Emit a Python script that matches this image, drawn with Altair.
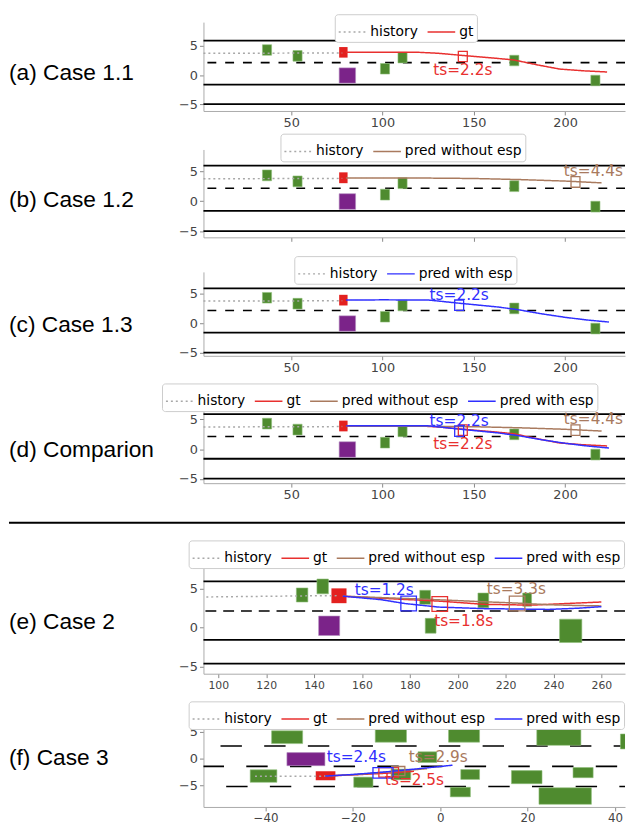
import altair as alt
import pandas as pd

W = 427
FONT = "DejaVu Sans"
LABEL_FONT = "Liberation Sans"

SERIES = ["history", "gt", "pred without esp", "pred with esp"]
SERIES_COLORS = ["#a8a8a8", "#e8302f", "#a97a5e", "#2f2fff"]
SERIES_DASH = [[2, 3], [1, 0], [1, 0], [1, 0]]

GREEN = "#4f8b2f"
PURPLE = "#7b2389"
EGO_RED = "#e3211f"

# ---------------- Case 1 (panels a-d) ----------------
c1_lane_solid = [5.9, -1.6, -4.95]
c1_lane_dashed = [2.15]
c1_veh_x = [36.8, 53.5, 101.4, 111.0, 172.2, 216.6]
c1_veh_y = [4.3, 3.3, 1.1, 3.0, 2.5, -0.9]
c1_veh_len = [5.0, 5.0, 5.0, 5.0, 5.0, 5.0]
c1_veh_wid = [1.8, 1.8, 1.8, 1.8, 1.8, 1.8]
c1_ego = [78.6, 3.9, 4.6, 1.8]
c1_purple = [80.8, -0.05, 9.0, 2.6]
c1_hist_x = [2, 20, 40, 60, 78]
c1_hist_y = [3.75, 3.75, 3.76, 3.78, 3.8]
c1_gt_x = [80, 100, 120, 130, 144, 160, 172, 185, 197, 210, 223]
c1_gt_y = [3.9, 3.92, 3.9, 3.75, 3.37, 2.95, 2.6, 1.75, 1.05, 0.75, 0.55]
c1_wo_x = [80, 120, 150, 175, 200, 220]
c1_wo_y = [3.88, 3.86, 3.78, 3.6, 3.35, 3.05]
c1_w_x = [80, 100, 125, 143, 163, 174, 187, 200, 212, 224]
c1_w_y = [3.92, 3.95, 3.93, 3.35, 2.75, 2.3, 1.6, 1.0, 0.55, 0.2]
c1_hollow_gt = [144.0, 3.2, 4.9, 1.75]
c1_hollow_w = [142.0, 3.05, 4.9, 1.75]
c1_hollow_wo = [205.7, 3.2, 4.9, 1.75]
c1_text_gt = [144.0, 0.8, "ts=2.2s"]
c1_text_w = [142.0, 4.8, "ts=2.2s"]
c1_text_wo = [215.5, 5.0, "ts=4.4s"]

# ---------------- Case 2 (panel e) ----------------
c2_lane_solid = [5.95, -1.55, -4.6]
c2_lane_dashed = [2.15]
c2_veh_x = [135.0, 143.6, 186.4, 188.7, 210.7, 229.0, 247.2]
c2_veh_y = [4.2, 5.3, 3.9, 0.25, 3.5, 3.6, -0.4]
c2_veh_len = [4.8, 4.8, 4.5, 4.5, 4.5, 3.7, 9.3]
c2_veh_wid = [1.8, 1.9, 1.8, 1.9, 1.9, 1.7, 3.0]
c2_ego = [150.4, 4.1, 6.3, 1.9]
c2_purple = [146.3, 0.25, 8.8, 2.5]
c2_hist_x = [95, 110, 125, 140, 150]
c2_hist_y = [3.95, 4.0, 4.05, 4.1, 4.12]
c2_gt_x = [152, 170, 193, 211, 231, 245, 260]
c2_gt_y = [4.05, 3.75, 3.4, 3.0, 2.9, 3.1, 3.3]
c2_wo_x = [152, 165, 183, 200, 211, 225, 238, 250, 260]
c2_wo_y = [4.05, 3.9, 3.7, 3.48, 3.33, 3.16, 2.95, 2.85, 2.8]
c2_w_x = [152, 168, 178, 192, 211, 225, 238, 250, 260]
c2_w_y = [4.05, 3.6, 3.1, 2.65, 2.45, 2.4, 2.35, 2.5, 2.7]
c2_hollow_gt = [192.5, 3.05, 6.5, 1.9]
c2_hollow_w = [179.5, 3.1, 6.5, 1.9]
c2_hollow_wo = [224.8, 3.1, 6.5, 1.9]
c2_text_gt = [202.5, 0.8, "ts=1.8s"]
c2_text_w = [169.3, 4.8, "ts=1.2s"]
c2_text_wo = [224.5, 4.9, "ts=3.3s"]

# ---------------- Case 3 (panel f) ----------------
c3_lane_y = [2.35, -1.48, -5.25]
c3_lane_start = [-50.3, -54.4, -49.0]
c3_veh_x = [-35.05, -11.3, 5.45, 27.15, 43.5, -2.95, -40.45, -17.6, -9.0, 6.85, 4.6, 19.8, 28.6, 32.7]
c3_veh_y = [4.0, 4.3, 4.3, 4.0, 3.2, 0.25, -3.3, -4.45, -3.0, -3.0, -6.3, -3.5, -7.05, -2.65]
c3_veh_len = [7.1, 7.15, 7.1, 10.1, 4.5, 4.3, 6.1, 4.4, 4.5, 4.3, 4.6, 7.0, 12.0, 4.6]
c3_veh_wid = [2.4, 2.45, 2.45, 3.05, 2.8, 2.0, 2.35, 1.9, 2.0, 1.85, 1.8, 2.45, 3.1, 1.9]
c3_ego = [-26.25, -3.25, 4.5, 1.7]
c3_purple = [-30.75, -0.12, 8.7, 2.45]
c3_hist_x = [-42.4, -36, -30, -26.3]
c3_hist_y = [-3.35, -3.35, -3.35, -3.3]
c3_gt_x = [-26.3, -18, -12, -6]
c3_gt_y = [-3.3, -3.0, -2.75, -2.4]
c3_wo_x = [-26.3, -18, -9.6, -3]
c3_wo_y = [-3.3, -2.95, -2.35, -1.9]
c3_w_x = [-26.3, -20, -13, -6, 0, 2.8]
c3_w_y = [-3.3, -3.0, -2.55, -2.0, -1.5, -1.25]
c3_hollow_gt = [-11.8, -2.6, 4.5, 1.8]
c3_hollow_w = [-13.1, -2.7, 4.6, 2.0]
c3_hollow_wo = [-9.6, -2.35, 3.0, 1.7]
c3_text_gt = [-5.9, -4.1, "ts=2.5s"]
c3_text_w = [-19.2, 0.2, "ts=2.4s"]
c3_text_wo = [-0.45, 0.2, "ts=2.9s"]


def rect_df(xs, ys, ls, ws):
    return pd.DataFrame({
        "x0": [x - l / 2 for x, l in zip(xs, ls)],
        "x1": [x + l / 2 for x, l in zip(xs, ls)],
        "y0": [y - w / 2 for y, w in zip(ys, ws)],
        "y1": [y + w / 2 for y, w in zip(ys, ws)],
    })


def panel(xdom, ydom, h, xticks, xsize, show_xlabels, solid, dashed, dash_pat,
          dash_rows, veh, ego, purple, trajs, hollows, texts, leg_xy, label, label_y):
    xsc = alt.Scale(domain=xdom, nice=False, zero=False)
    ysc = alt.Scale(domain=ydom, nice=False, zero=False)
    xax = alt.Axis(values=xticks, labels=show_xlabels, labelFontSize=xsize, labelFont=FONT,
                   labelColor="#444444", tickColor="#888888", domainColor="#aaaaaa",
                   tickSize=4, grid=False, title=None, labelPadding=2)
    yax = alt.Axis(values=[-5, 0, 5], labelFontSize=13, labelFont=FONT,
                   labelColor="#444444", tickColor="#888888", domainColor="#aaaaaa",
                   tickSize=4, grid=False, title=None, labelPadding=2)

    def X(f):
        return alt.X(f + ":Q", scale=xsc, axis=xax)

    def Y(f):
        return alt.Y(f + ":Q", scale=ysc, axis=yax)

    layers = []
    if solid:
        layers.append(alt.Chart(pd.DataFrame({"y": solid})).mark_rule(
            color="black", strokeWidth=1.8).encode(y=Y("y")))
    if dashed:
        layers.append(alt.Chart(pd.DataFrame({"y": dashed})).mark_rule(
            color="black", strokeWidth=1.6, strokeDash=dash_pat).encode(y=Y("y")))
    if dash_rows:
        ys_, starts = dash_rows
        unit = W / (xdom[1] - xdom[0])
        df = pd.DataFrame({"y": ys_, "xs": starts, "xe": [xdom[1]] * len(ys_)})
        layers.append(alt.Chart(df).mark_rule(
            color="black", strokeWidth=1.6, strokeDash=[4.9 * unit, 5.1 * unit], clip=True
        ).encode(x=X("xs"), x2="xe", y=Y("y")))
    layers.append(alt.Chart(rect_df(*veh)).mark_rect(color=GREEN, clip=True, stroke="#8fbf7a",
                                                     strokeWidth=0.6).encode(
        x=X("x0"), x2="x1", y=Y("y0"), y2="y1"))
    layers.append(alt.Chart(rect_df([purple[0]], [purple[1]], [purple[2]], [purple[3]])).mark_rect(
        color=PURPLE, stroke="#b58fc0", strokeWidth=0.6).encode(x=X("x0"), x2="x1", y=Y("y0"), y2="y1"))
    layers.append(alt.Chart(rect_df([ego[0]], [ego[1]], [ego[2]], [ego[3]])).mark_rect(
        color=EGO_RED).encode(x=X("x0"), x2="x1", y=Y("y0"), y2="y1"))

    rows = []
    present = []
    for name, (xs, ys) in trajs:
        present.append(name)
        for i, (a, b) in enumerate(zip(xs, ys)):
            rows.append({"series": name, "x": a, "y": b, "i": i})
    tdf = pd.DataFrame(rows)
    cols = [SERIES_COLORS[SERIES.index(s)] for s in present]
    dashes = [SERIES_DASH[SERIES.index(s)] for s in present]
    leg = alt.Legend(orient="none", legendX=leg_xy[0], legendY=leg_xy[1], direction="horizontal",
                     symbolType="stroke", symbolSize=784, symbolStrokeWidth=1.5,
                     labelFont=FONT, labelFontSize=14, labelColor="black",
                     strokeColor="#cccccc", fillColor="white", padding=3, cornerRadius=3,
                     columnPadding=6, labelOffset=3, title=None, labelLimit=400)
    layers.append(alt.Chart(tdf).mark_line(strokeWidth=1.5).encode(
        x=X("x"), y=Y("y"),
        color=alt.Color("series:N", scale=alt.Scale(domain=present, range=cols), legend=leg),
        strokeDash=alt.StrokeDash("series:N", scale=alt.Scale(domain=present, range=dashes), legend=leg),
        order="i:Q"))

    for (hx, hy, hl, hw), c in hollows:
        layers.append(alt.Chart(rect_df([hx], [hy], [hl], [hw])).mark_rect(
            fillOpacity=0, stroke=c, strokeWidth=1.3).encode(x=X("x0"), x2="x1", y=Y("y0"), y2="y1"))
    for (tx, ty, tt), c in texts:
        layers.append(alt.Chart(pd.DataFrame({"x": [tx], "y": [ty], "t": [tt]})).mark_text(
            color=c, fontSize=15.5, font=FONT).encode(x=X("x"), y=Y("y"), text="t:N"))
    layers.append(alt.Chart(pd.DataFrame({"t": [label]})).mark_text(
        align="left", baseline="middle", font=LABEL_FONT, fontSize=23, color="black"
    ).encode(x=alt.value(-197), y=alt.value(label_y), text="t:N"))
    return alt.layer(*layers).properties(width=W, height=h)


RED_C, BROWN_C, BLUE_C = SERIES_COLORS[1], SERIES_COLORS[2], SERIES_COLORS[3]
c1_xdom = [2, 2 + W / 1.85]
c1_ticks = [50, 100, 150, 200]
c1_veh = (c1_veh_x, c1_veh_y, c1_veh_len, c1_veh_wid)

pa = panel(c1_xdom, [-6.1, 9.05], 90, c1_ticks, 13, True, c1_lane_solid, c1_lane_dashed, [9, 9], None,
           c1_veh, c1_ego, c1_purple,
           [("history", (c1_hist_x, c1_hist_y)), ("gt", (c1_gt_x, c1_gt_y))],
           [(c1_hollow_gt, RED_C)], [(c1_text_gt, RED_C)], (133, -8), "(a) Case 1.1", 52)
pb = panel(c1_xdom, [-6.0, 8.6], 89, c1_ticks, 13, False, c1_lane_solid, c1_lane_dashed, [9, 9], None,
           c1_veh, c1_ego, c1_purple,
           [("history", (c1_hist_x, c1_hist_y)), ("pred without esp", (c1_wo_x, c1_wo_y))],
           [(c1_hollow_wo, BROWN_C)], [(c1_text_wo, BROWN_C)], (78, -16), "(b) Case 1.2", 51)
pc = panel(c1_xdom, [-5.5, 8.67], 85, c1_ticks, 13, True, c1_lane_solid, c1_lane_dashed, [9, 9], None,
           c1_veh, c1_ego, c1_purple,
           [("history", (c1_hist_x, c1_hist_y)), ("pred with esp", (c1_w_x, c1_w_y))],
           [(c1_hollow_w, BLUE_C)], [(c1_text_w, BLUE_C)], (92, -16), "(c) Case 1.3", 54)
pd_ = panel(c1_xdom, [-5.7, 6.9], 76, c1_ticks, 13, True, c1_lane_solid, c1_lane_dashed, [9, 9], None,
            c1_veh, c1_ego, c1_purple,
            [("history", (c1_hist_x, c1_hist_y)), ("gt", (c1_gt_x, c1_gt_y)),
             ("pred without esp", (c1_wo_x, c1_wo_y)), ("pred with esp", (c1_w_x, c1_w_y))],
            [(c1_hollow_gt, RED_C), (c1_hollow_w, BLUE_C), (c1_hollow_wo, BROWN_C)],
            [(c1_text_gt, RED_C), (c1_text_w, BLUE_C), (c1_text_wo, BROWN_C)],
            (-42, -25), "(d) Comparion", 43)
pe = panel([93.8, 93.8 + W / 2.425], [-5.9, 9.05], 118, list(range(100, 261, 20)), 11, True,
           c2_lane_solid, c2_lane_dashed, [11, 7], None,
           (c2_veh_x, c2_veh_y, c2_veh_len, c2_veh_wid), c2_ego, c2_purple,
           [("history", (c2_hist_x, c2_hist_y)), ("gt", (c2_gt_x, c2_gt_y)),
            ("pred without esp", (c2_wo_x, c2_wo_y)), ("pred with esp", (c2_w_x, c2_w_y))],
           [(c2_hollow_gt, RED_C), (c2_hollow_w, BLUE_C), (c2_hollow_wo, BROWN_C)],
           [(c2_text_gt, RED_C), (c2_text_w, BLUE_C), (c2_text_wo, BROWN_C)],
           (-15, -17), "(e) Case 2", 66)
pf = panel([-54.2, -54.2 + W / 4.425], [-9.1, 6.1], 82, [-40, -20, 0, 20, 40], 12, True,
           None, None, None, (c3_lane_y, c3_lane_start),
           (c3_veh_x, c3_veh_y, c3_veh_len, c3_veh_wid), c3_ego, c3_purple,
           [("history", (c3_hist_x, c3_hist_y)), ("gt", (c3_gt_x, c3_gt_y)),
            ("pred without esp", (c3_wo_x, c3_wo_y)), ("pred with esp", (c3_w_x, c3_w_y))],
           [(c3_hollow_gt, RED_C), (c3_hollow_wo, BROWN_C), (c3_hollow_w, BLUE_C)],
           [(c3_text_gt, RED_C), (c3_text_w, BLUE_C), (c3_text_wo, BROWN_C)],
           (-15, -25), "(f) Case 3", 32)


def spacer(h):
    return alt.Chart(pd.DataFrame({"v": [0]})).mark_point(opacity=0).encode(
        x=alt.value(0), y=alt.value(0)).properties(width=W, height=h)


sep = alt.Chart(pd.DataFrame({"v": [0]})).mark_rule(color="black", strokeWidth=2).encode(
    x=alt.value(-197), x2=alt.value(W), y=alt.value(40)).properties(width=W, height=75)

chart = alt.vconcat(pa, spacer(39), pb, spacer(35), pc, spacer(53), pd_, sep, pe, spacer(53), pf,
                    spacing=0, bounds="flush")
chart = chart.resolve_scale(x="independent", y="independent", color="independent",
                            strokeDash="independent").resolve_legend(
    color="independent", strokeDash="independent")
chart = chart.properties(padding=0, background="white").configure_view(strokeWidth=0)

chart.save("out.html", embed_options={"renderer": "svg", "actions": False})
